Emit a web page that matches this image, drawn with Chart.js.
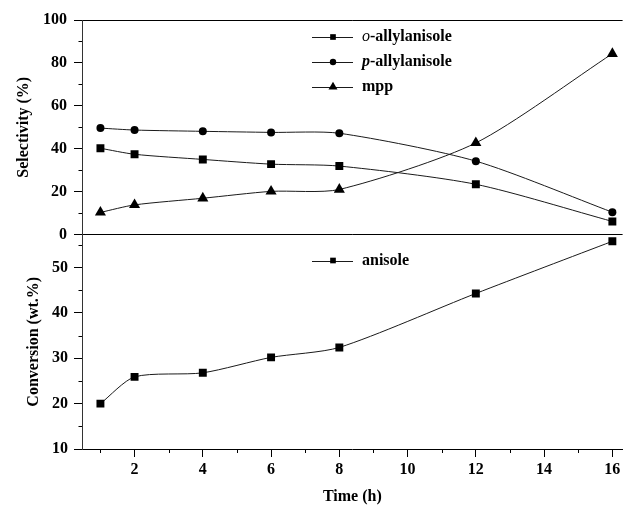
<!DOCTYPE html>
<html>
<head>
<meta charset="utf-8">
<script src="https://cdn.jsdelivr.net/npm/chart.js@4.4.1/dist/chart.umd.min.js"></script>
<style>
  html, body { margin: 0; padding: 0; background: #fff; }
</style>
</head>
<body>
<canvas id="grafico" width="629" height="508"></canvas>
<script>
// time points (h)
const tempos = [1, 2, 4, 6, 8, 12, 16];
// selectivity (%)
const oAllyl = [40.2, 37.4, 35.0, 32.8, 31.9, 23.4, 6.1];
const pAllyl = [49.6, 48.7, 48.1, 47.6, 47.2, 34.2, 10.4];
const mpp = [10.3, 13.8, 16.9, 20.1, 21.0, 42.7, 84.3];
// anisole conversion (wt.%)
const anisol = [20.0, 25.9, 26.8, 30.2, 32.4, 44.3, 55.8];

// minor ticks
const selMinor = [10, 30, 50, 70, 90];
const convMinor = [15, 25, 35, 45, 55];
const timeMinor = [1, 3, 5, 7, 9, 11, 13, 15];

const SERIF = '"Liberation Serif", "Times New Roman", serif';
Chart.defaults.font.family = SERIF;
Chart.defaults.font.size = 16;
Chart.defaults.font.weight = 'bold';
Chart.defaults.color = '#000';

function pontos(ys) {
  return tempos.map((t, i) => ({ x: t, y: ys[i] }));
}

function serie(label, valores, eixo, estilo, raio) {
  return {
    label: label,
    data: pontos(valores),
    yAxisID: eixo,
    borderColor: '#1a1a1a',
    borderWidth: 1,
    backgroundColor: '#000',
    pointBackgroundColor: '#000',
    pointBorderColor: '#000',
    pointBorderWidth: 0,
    pointStyle: estilo,
    pointRadius: raio,
    tension: 0.25,
    fill: false,
  };
}

// minor tick marks
const minorTicks = {
  id: 'minorTicks',
  afterDraw(chart) {
    const ctx = chart.ctx;
    const { x, ys, yc } = chart.scales;
    ctx.save();
    ctx.strokeStyle = '#000';
    ctx.lineWidth = 1;
    ctx.beginPath();
    selMinor.forEach(v => {
      const py = Math.round(ys.getPixelForValue(v)) + 0.5;
      ctx.moveTo(ys.right - 3.5, py); ctx.lineTo(ys.right, py);
    });
    convMinor.forEach(v => {
      const py = Math.round(yc.getPixelForValue(v)) + 0.5;
      ctx.moveTo(yc.right - 3.5, py); ctx.lineTo(yc.right, py);
    });
    timeMinor.forEach(v => {
      const px = Math.round(x.getPixelForValue(v)) + 0.5;
      ctx.moveTo(px, x.top); ctx.lineTo(px, x.top + 4);
    });
    ctx.stroke();
    ctx.restore();
  }
};

// legends inside each panel
const legendas = {
  id: 'legendas',
  afterDatasetsDraw(chart) {
    const ctx = chart.ctx;
    const area = chart.chartArea;
    const { ys, yc } = chart.scales;
    const x0 = area.left + 230, x1 = area.left + 271, xm = area.left + 251, xt = area.left + 280;
    const itens = [
      { ds: 0, y: ys.top + 17, partes: [['o', 'italic 16px ' + SERIF], ['-allylanisole', 'bold 16px ' + SERIF]], r: 4 },
      { ds: 1, y: ys.top + 42, partes: [['p', 'italic bold 16px ' + SERIF], ['-allylanisole', 'bold 16px ' + SERIF]], r: 3.2 },
      { ds: 2, y: ys.top + 67, partes: [['mpp', 'bold 16px ' + SERIF]], r: 5.2 },
      { ds: 3, y: yc.top + 26, partes: [['anisole', 'bold 16px ' + SERIF]], r: 4 },
    ];
    ctx.save();
    itens.forEach(it => {
      const ds = chart.data.datasets[it.ds];
      ctx.strokeStyle = '#1a1a1a';
      ctx.lineWidth = 1;
      ctx.beginPath();
      ctx.moveTo(x0, Math.round(it.y) + 0.5);
      ctx.lineTo(x1, Math.round(it.y) + 0.5);
      ctx.stroke();
      ctx.fillStyle = '#000';
      Chart.helpers.drawPoint(ctx, { pointStyle: ds.pointStyle, radius: it.r, rotation: 0, borderWidth: 0 }, xm, it.y);
      ctx.textBaseline = 'middle';
      ctx.textAlign = 'left';
      let xx = xt;
      it.partes.forEach(([txt, fonte]) => {
        ctx.font = fonte;
        ctx.fillText(txt, xx, it.y);
        xx += ctx.measureText(txt).width;
      });
    });
    ctx.restore();
  }
};

const grafico = document.getElementById('grafico');
new Chart(grafico, {
  type: 'line',
  data: {
    datasets: [
      serie('o-allylanisole', oAllyl, 'ys', 'rect', 5.6),
      serie('p-allylanisole', pAllyl, 'ys', 'circle', 4),
      serie('mpp', mpp, 'ys', 'triangle', 6.4),
      serie('anisole', anisol, 'yc', 'rect', 5.6),
    ],
  },
  options: {
    responsive: false,
    animation: false,
    layout: { padding: { top: 20, right: 0, bottom: 0, left: 0 } },
    plugins: {
      legend: { display: false },
      tooltip: { enabled: false },
    },
    scales: {
      x: {
        type: 'linear',
        position: 'bottom',
        min: 0.46,
        max: 16.3,
        afterFit: s => { s.height = 59; },
        ticks: { stepSize: 2, includeBounds: false, padding: 3, maxRotation: 0, autoSkip: false },
        grid: { drawOnChartArea: false, tickLength: 8, tickColor: '#000' },
        border: { color: '#000', width: 1 },
        title: { display: true, text: 'Time (h)', padding: { top: 0, bottom: 2 }, font: { size: 16, weight: 'bold' } },
      },
      yc: {
        type: 'linear',
        position: 'left',
        stack: 'painel',
        stackWeight: 1,
        min: 10,
        max: 57.3,
        afterFit: s => { s.width = 82; },
        ticks: { stepSize: 10, includeBounds: false, padding: 6 },
        grid: { color: 'rgba(0,0,0,0)', tickColor: '#000', tickLength: 8 },
        border: { color: '#333', width: 1 },
        title: { display: true, text: 'Conversion (wt.%)', padding: { top: 24, bottom: 0 }, font: { size: 16, weight: 'bold' } },
      },
      ys: {
        type: 'linear',
        position: 'left',
        stack: 'painel',
        stackWeight: 1,
        min: 0,
        max: 100,
        afterFit: s => { s.width = 82; },
        ticks: { stepSize: 20, includeBounds: false, padding: 7 },
        grid: {
          color: c => (c.tick && (c.tick.value === 0 || c.tick.value === 100)) ? '#000' : 'rgba(0,0,0,0)',
          tickColor: '#000',
          tickLength: 8,
        },
        border: { color: '#333', width: 1 },
        title: { display: true, text: 'Selectivity (%)', padding: { top: 14, bottom: 0 }, font: { size: 16, weight: 'bold' } },
      },
    },
  },
  plugins: [minorTicks, legendas],
});
</script>
</body>
</html>
